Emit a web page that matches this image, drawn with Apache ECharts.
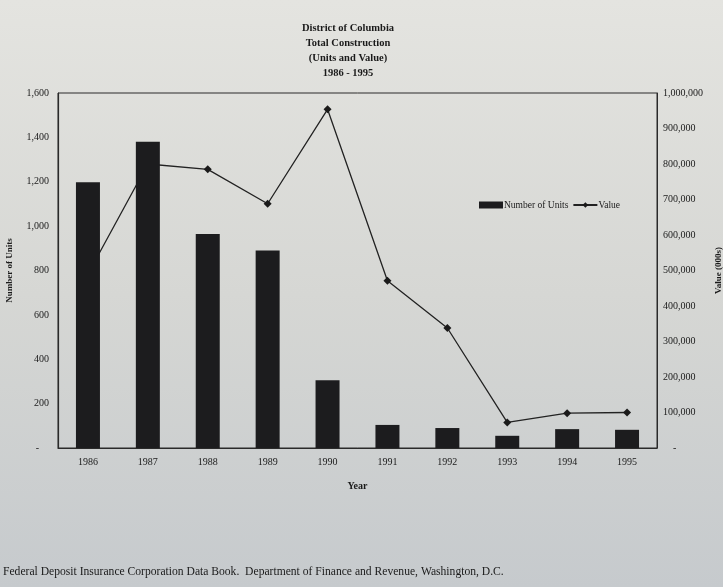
<!DOCTYPE html>
<html>
<head>
<meta charset="utf-8">
<script src="https://cdn.jsdelivr.net/npm/echarts@6/dist/echarts.min.js"></script>
<style>
html,body{margin:0;padding:0;}
#c{width:723px;height:587px;}
</style>
</head>
<body>
<div id="c"></div>
<script>
const years = ['1986','1987','1988','1989','1990','1991','1992','1993','1994','1995'];
const units = [1198, 1380, 965, 890, 305, 104, 90, 55, 85, 82];
const values = [490000, 800000, 785000, 688000, 954000, 471000, 338000, 72000, 98000, 100000];
const titleLines = ['District of Columbia', 'Total Construction', '(Units and Value)', '1986 - 1995'];
const footer = 'Federal Deposit Insurance Corporation Data Book.  Department of Finance and Revenue, Washington, D.C.';

const serif = '"Liberation Serif", "DejaVu Serif", serif';
const chart = echarts.init(document.getElementById('c'));
chart.setOption({
  backgroundColor: {
    type: 'linear', x: 0, y: 0, x2: 0, y2: 1,
    colorStops: [
      {offset: 0, color: '#e4e4e0'},
      {offset: 0.5, color: '#d6d7d4'},
      {offset: 1, color: '#c6cacd'}
    ]
  },
  animation: false,
  title: [
    {
      text: titleLines.join('\n'),
      left: 348, top: 21, textAlign: 'center', padding: 0,
      textStyle: {fontFamily: serif, fontSize: 10.5, fontWeight: 'bold', color: '#1a1a1a', lineHeight: 15}
    },
    {
      text: footer,
      left: 3, top: 566, padding: 0,
      textStyle: {fontFamily: serif, fontSize: 11.6, fontWeight: 'normal', color: '#1a1a1a'}
    }
  ],
  legend: {
    left: 479, top: 200, padding: 0,
    itemGap: 4,
    itemWidth: 24, itemHeight: 7,
    textStyle: {fontFamily: serif, fontSize: 9.5, color: '#1a1a1a', padding: [0, 0, 0, -4]},
    data: [
      {name: 'Number of Units', icon: 'rect'},
      {name: 'Value'}
    ]
  },
  grid: {
    left: 58, right: 66, top: 93, bottom: 139,
    outerBoundsMode: 'none', containLabel: false,
    show: true, borderColor: '#2a2a2a', borderWidth: 1, backgroundColor: 'transparent'
  },
  xAxis: {
    type: 'category', data: years,
    name: 'Year', nameLocation: 'middle', nameGap: 33,
    nameTextStyle: {fontFamily: serif, fontSize: 10, fontWeight: 'bold', color: '#1a1a1a'},
    axisLine: {lineStyle: {color: '#2a2a2a', width: 1.2}},
    axisTick: {show: false},
    axisLabel: {fontFamily: serif, fontSize: 10, color: '#1a1a1a', margin: 9}
  },
  yAxis: [
    {
      type: 'value', min: 0, max: 1600, interval: 200,
      name: 'Number of Units', nameLocation: 'middle', nameGap: 44, nameRotate: 90,
      nameTextStyle: {fontFamily: serif, fontSize: 9, fontWeight: 'bold', color: '#1a1a1a'},
      axisLine: {show: true, lineStyle: {color: '#2a2a2a', width: 1.2}},
      axisTick: {show: false},
      splitLine: {show: false},
      axisLabel: {
        fontFamily: serif, fontSize: 10, color: '#1a1a1a', margin: 9,
        formatter: v => v === 0 ? '-    ' : v.toLocaleString('en-US')
      }
    },
    {
      type: 'value', min: 0, max: 1000000, interval: 100000,
      name: 'Value (000s)', nameLocation: 'middle', nameGap: 55, nameRotate: 90,
      nameTextStyle: {fontFamily: serif, fontSize: 9, fontWeight: 'bold', color: '#1a1a1a'},
      axisLine: {show: true, lineStyle: {color: '#2a2a2a', width: 1}},
      axisTick: {show: false},
      splitLine: {show: false},
      axisLabel: {
        fontFamily: serif, fontSize: 10, color: '#1a1a1a', margin: 6,
        formatter: v => v === 0 ? '    -' : v.toLocaleString('en-US')
      }
    }
  ],
  series: [
    {
      name: 'Number of Units', type: 'bar', data: units, yAxisIndex: 0,
      barWidth: 24, z: 3,
      itemStyle: {color: '#1c1c1e'}
    },
    {
      name: 'Value', type: 'line', data: values, yAxisIndex: 1,
      z: 2,
      symbol: 'diamond', symbolSize: 8,
      lineStyle: {color: '#222', width: 1.3},
      itemStyle: {color: '#1a1a1a'}
    }
  ]
});
</script>
</body>
</html>
